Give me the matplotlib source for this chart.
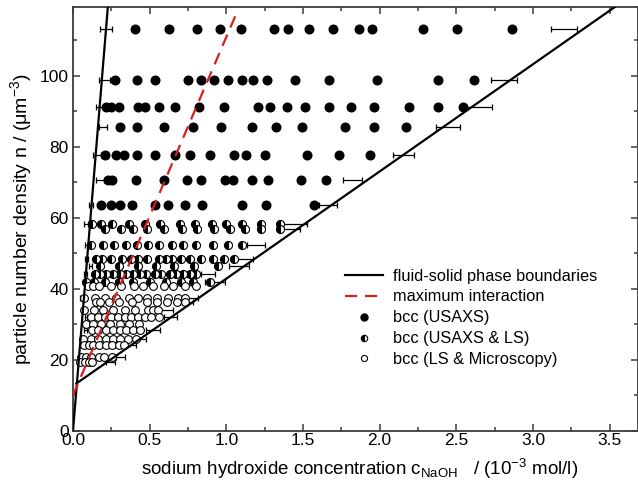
import matplotlib
matplotlib.use("Agg")
import matplotlib.pyplot as plt
from matplotlib.lines import Line2D
from matplotlib.ticker import MultipleLocator

plt.rcParams["font.family"] = ["Liberation Sans", "DejaVu Sans"]
plt.rcParams["mathtext.fontset"] = "custom"
plt.rcParams["mathtext.rm"] = "Liberation Sans"
plt.rcParams["mathtext.it"] = "Liberation Sans:italic"

# ---- phase boundaries (c in 1e-3 mol/l, n in 1/um^3) ----
left_boundary_c = [0.0, 0.227]
left_boundary_n = [0.0, 119.3]
right_boundary_c = [0.022, 3.70]
right_boundary_n = [13.3, 124.4]
max_interaction_c = [0.0, 1.07]
max_interaction_n = [10.0, 118.0]

# ---- bcc (USAXS) ----
usaxs_n = [113.2, 98.8, 91.1, 85.7, 77.7, 70.6, 63.7]
usaxs_c = [
    [0.407, 0.626, 0.807, 0.957, 1.096, 1.309, 1.405, 1.537, 1.696, 1.864, 1.947, 2.281, 2.505, 2.862],
    [0.272, 0.416, 0.535, 0.748, 0.838, 0.922, 1.011, 1.105, 1.174, 1.264, 1.451, 1.670, 1.983, 2.381, 2.616],
    [0.213, 0.246, 0.298, 0.422, 0.472, 0.559, 0.663, 0.825, 0.985, 1.205, 1.283, 1.394, 1.513, 1.670,
     1.811, 1.962, 2.190, 2.381, 2.544],
    [0.307, 0.417, 0.596, 0.781, 0.963, 1.170, 1.327, 1.496, 1.776, 1.960, 2.175],
    [0.207, 0.283, 0.333, 0.420, 0.538, 0.665, 0.766, 0.892, 1.050, 1.127, 1.250, 1.523, 1.735, 1.937],
    [0.228, 0.257, 0.411, 0.594, 0.744, 0.838, 0.992, 1.044, 1.170, 1.272, 1.487, 1.650],
    [0.185, 0.246, 0.305, 0.387, 0.533, 0.620, 0.731, 0.841, 1.105, 1.262, 1.571],
]

# ---- bcc (USAXS & LS) ----
mixed_n = [58.3, 56.9, 52.3, 48.4, 46.3, 44.2, 41.8]
mixed_c = [
    [0.124, 0.185, 0.256, 0.365, 0.471, 0.566, 0.699, 0.797, 0.906, 0.998, 1.105, 1.226, 1.348],
    [0.207, 0.313, 0.389, 0.481, 0.593, 0.710, 0.810, 0.921, 1.022, 1.120, 1.229, 1.348],
    [0.117, 0.197, 0.270, 0.346, 0.416, 0.489, 0.564, 0.648, 0.718, 0.800, 0.915, 1.009, 1.099],
    [0.148, 0.192, 0.246, 0.322, 0.381, 0.424, 0.483, 0.559, 0.605, 0.648, 0.707, 0.766, 0.838,
     0.913, 0.983, 1.048],
    [0.177, 0.303, 0.427, 0.541, 0.658, 0.791, 0.946],
    [0.142, 0.174, 0.218, 0.261, 0.305, 0.348, 0.391, 0.435, 0.479, 0.533, 0.577, 0.631, 0.674,
     0.718, 0.761, 0.800],
    [0.083, 0.138, 0.210, 0.297, 0.389, 0.500, 0.607, 0.707, 0.785, 0.892],
]

# ---- bcc (LS & Microscopy) ----
ls_n = [40.7, 37.5, 36.3, 34.0, 32.1, 30.2, 28.3, 25.8, 24.1, 20.8, 19.3]
ls_c = [
    [0.096, 0.130, 0.170, 0.246, 0.316, 0.396, 0.457, 0.520, 0.592, 0.652, 0.729, 0.805],
    [0.070, 0.142, 0.207, 0.283, 0.364, 0.422, 0.481, 0.548, 0.618, 0.685, 0.729],
    [0.153, 0.174, 0.233, 0.300, 0.387, 0.485, 0.548, 0.613, 0.678, 0.729],
    [0.070, 0.135, 0.196, 0.261, 0.337, 0.406, 0.487, 0.520, 0.554],
    [0.120, 0.163, 0.207, 0.250, 0.294, 0.337, 0.381, 0.424, 0.468, 0.511, 0.561],
    [0.087, 0.130, 0.185, 0.244, 0.305, 0.367, 0.431],
    [0.125, 0.163, 0.213, 0.259, 0.305, 0.348, 0.394, 0.440],
    [0.068, 0.117, 0.163, 0.213, 0.261, 0.307, 0.359, 0.414],
    [0.070, 0.104, 0.133, 0.172, 0.215, 0.256, 0.301, 0.331],
    [0.055, 0.087, 0.120, 0.170, 0.200, 0.257],
    [0.044, 0.076, 0.104, 0.127],
]

# ---- uncertainty of the boundary positions ----
left_err_n = [113.2, 98.8, 91.1, 85.7, 77.7, 70.6, 63.7, 58.3, 52.3, 48.4, 46.3, 44.2, 37.5, 32.1, 28.3]
left_err_c = [0.213, 0.205, 0.179, 0.196, 0.158, 0.176, 0.117, 0.083, 0.089, 0.086, 0.115, 0.081,
              0.057, 0.086, 0.080]
left_err_dc = [0.040, 0.035, 0.026, 0.026, 0.027, 0.024, 0.013, 0.014, 0.013, 0.010, 0.011, 0.010,
               0.010, 0.008, 0.010]

right_err_n = [113.2, 98.8, 91.1, 85.7, 77.7, 70.6, 63.7, 58.3, 56.9, 52.3, 48.4, 46.3, 44.2, 41.8,
               37.5, 36.3, 34.0, 32.1, 28.3, 25.8, 24.1, 20.8, 19.3]
right_err_c = [3.205, 2.808, 2.648, 2.446, 2.154, 1.823, 1.663, 1.446, 1.414, 1.192, 1.109, 1.083,
               0.883, 0.924, 0.774, 0.740, 0.603, 0.634, 0.520, 0.440, 0.370, 0.311, 0.245]
right_err_dc = [0.085, 0.085, 0.082, 0.080, 0.070, 0.065, 0.059, 0.078, 0.065, 0.060, 0.065, 0.068,
                0.046, 0.065, 0.040, 0.040, 0.047, 0.042, 0.046, 0.035, 0.040, 0.030, 0.027]

fig = plt.figure(figsize=(6.38, 4.86), dpi=100)
ax = fig.add_axes([73 / 638, 55.3 / 486, 565 / 638, 423.4 / 486])

spine_col = "#3c3c3c"

# error bars
for en, ec, edc in ((left_err_n, left_err_c, left_err_dc), (right_err_n, right_err_c, right_err_dc)):
    ax.errorbar(ec, en, xerr=edc, fmt="none", ecolor="black", elinewidth=0.9,
                capsize=2.4, capthick=0.9, zorder=2)

msize = 6.2
for n, cs in zip(usaxs_n, usaxs_c):
    ax.plot(cs, [n] * len(cs), "o", ls="none", color="black", ms=msize, mec="black", zorder=3)
for n, cs in zip(mixed_n, mixed_c):
    ax.plot(cs, [n] * len(cs), "o", ls="none", ms=msize - 0.4, mfc="black", mfcalt="white",
            fillstyle="left", mec="black", mew=0.8, zorder=3)
for n, cs in zip(ls_n, ls_c):
    ax.plot(cs, [n] * len(cs), "o", ls="none", ms=msize - 0.6, mfc="white", mec="black",
            mew=0.8, zorder=3)

ax.plot(left_boundary_c, left_boundary_n, color="black", lw=1.6, zorder=4)
ax.plot(right_boundary_c, right_boundary_n, color="black", lw=1.6, zorder=4)
ax.plot(max_interaction_c, max_interaction_n, color="#d42020", lw=1.6, dashes=(5.5, 3.5), zorder=4)

ax.set_xlim(0, 3.685)
ax.set_ylim(0, 119.3)
ax.xaxis.set_major_locator(MultipleLocator(0.5))
ax.xaxis.set_minor_locator(MultipleLocator(0.25))
ax.yaxis.set_major_locator(MultipleLocator(20))
ax.yaxis.set_minor_locator(MultipleLocator(10))
ax.set_xticks([0, 0.5, 1.0, 1.5, 2.0, 2.5, 3.0, 3.5])
ax.set_xticklabels(["0.0", "0.5", "1.0", "1.5", "2.0", "2.5", "3.0", "3.5"])
ax.tick_params(which="both", direction="in", top=True, right=True, color=spine_col,
               labelsize=12.5)
ax.tick_params(axis="x", pad=1.5)
ax.tick_params(axis="y", pad=3)
ax.tick_params(which="major", length=5, width=1.1)
ax.tick_params(which="minor", length=3, width=1.1)
for s in ax.spines.values():
    s.set_color(spine_col)
    s.set_linewidth(1.3)

ax.set_xlabel("sodium hydroxide concentration c$_{\\mathrm{NaOH}}$   / (10$^{-3}$ mol/l)",
              fontsize=13.5)
ax.xaxis.set_label_coords(0.508, -0.062)
ax.set_ylabel("particle number density n / (\u03bcm$^{-3}$)", fontsize=14, labelpad=4)

handles = [
    Line2D([], [], color="black", lw=1.6),
    Line2D([], [], color="#d42020", lw=1.6, dashes=(5.5, 3.5)),
    Line2D([], [], marker="o", ls="none", color="black", ms=5),
    Line2D([], [], marker="o", ls="none", ms=4.6, mfc="black", mfcalt="white", fillstyle="left",
           mec="black", mew=0.8),
    Line2D([], [], marker="o", ls="none", ms=4.4, mfc="white", mec="black", mew=0.8),
]
labels = ["fluid-solid phase boundaries", "maximum interaction", "bcc (USAXS)",
          "bcc (USAXS & LS)", "bcc (LS & Microscopy)"]
ax.legend(handles, labels, loc="upper left", bbox_to_anchor=(0.481, 0.383), frameon=False,
          fontsize=11.8, handlelength=2.35, handletextpad=0.6, labelspacing=0.36,
          borderpad=0, borderaxespad=0)

fig.savefig("out.png", dpi=100)
